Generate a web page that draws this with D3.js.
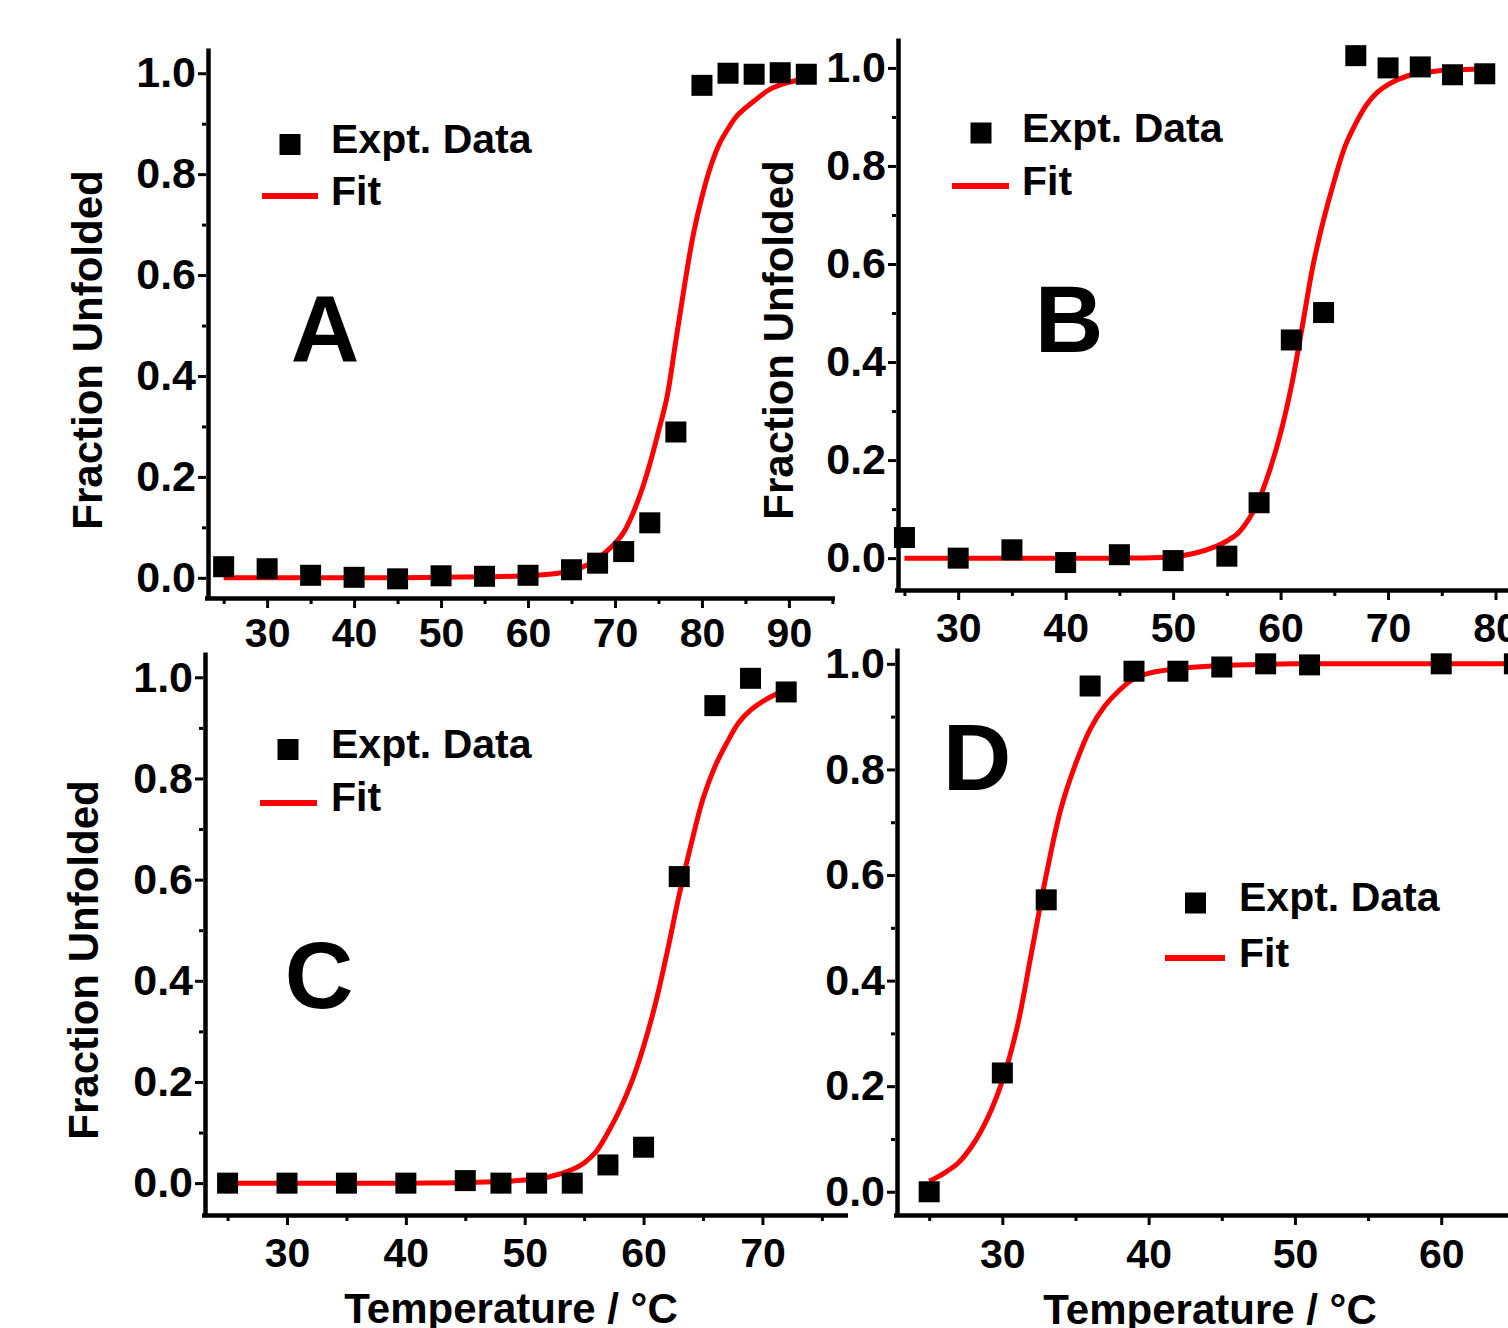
<!DOCTYPE html>
<html>
<head>
<meta charset="utf-8">
<script src="https://cdn.jsdelivr.net/npm/d3@7"></script>
<style>
  html, body { margin: 0; padding: 0; background: #ffffff; }
  svg { display: block; }
  text { font-family: "Liberation Sans", Arial, sans-serif; font-weight: bold; fill: #000; }
</style>
</head>
<body>
<svg id="chart" width="1508" height="1328"></svg>
<script>
// ---------------- DATA ----------------
const yTickValues = [0, 0.2, 0.4, 0.6, 0.8, 1.0];
const yMinorValues = [0.1, 0.3, 0.5, 0.7, 0.9];
const legendLabels = ["Expt. Data", "Fit"];
const yTitleText = "Fraction Unfolded";
const xTitleText = "Temperature / °C";
const panelLetters = ["A", "B", "C", "D"];

// Panel A
const tempA = [25, 30, 35, 40, 45, 50, 55, 60, 65, 68, 71, 74, 77, 80, 83, 86, 89, 92];
const fracA = [0.022, 0.018, 0.005, 0.001, -0.002, 0.004, 0.003, 0.005, 0.016, 0.029, 0.052, 0.109, 0.289, 0.976, 1.0, 0.998, 1.001, 0.998];
const fitTempA = [25, 30, 35, 40, 45, 50, 55, 60, 63, 65, 67, 68, 69, 70, 71, 72, 73, 74, 75, 76, 77, 78, 79, 80, 81, 82, 83, 84, 86, 88, 90, 92];
const fitFracA = [0, 0, 0, 0, 0, 0.001, 0.002, 0.004, 0.008, 0.014, 0.027, 0.038, 0.052, 0.068, 0.09, 0.125, 0.17, 0.225, 0.29, 0.36, 0.47, 0.58, 0.68, 0.755, 0.815, 0.86, 0.89, 0.915, 0.945, 0.97, 0.982, 0.99];
const xTicksA = [30, 40, 50, 60, 70, 80, 90];
const xMinorA = [25, 35, 45, 55, 65, 75, 85, 95];

// Panel B
const tempB = [25, 30, 35, 40, 45, 50, 55, 58, 61, 64, 67, 70, 73, 76, 79];
const fracB = [0.042, 0.0, 0.017, -0.009, 0.007, -0.005, 0.004, 0.113, 0.445, 0.501, 1.025, 1.0, 1.002, 0.986, 0.988];
const fitTempB = [25, 30, 35, 40, 45, 50, 52, 54, 55, 56, 57, 58, 59, 60, 61, 62, 63, 64, 65, 66, 67, 68, 69, 70, 72, 74, 76, 79];
const fitFracB = [0, 0, 0, 0, 0, 0.003, 0.01, 0.024, 0.035, 0.05, 0.078, 0.12, 0.18, 0.255, 0.35, 0.47, 0.595, 0.69, 0.77, 0.84, 0.887, 0.925, 0.95, 0.966, 0.985, 0.992, 0.996, 0.998];
const xTicksB = [30, 40, 50, 60, 70, 80];
const xMinorB = [25, 35, 45, 55, 65, 75];

// Panel C
const tempC = [25, 30, 35, 40, 45, 48, 51, 54, 57, 60, 63, 66, 69, 72];
const fracC = [0, 0, 0, 0, 0.005, 0, 0, 0, 0.036, 0.071, 0.606, 0.944, 0.998, 0.971];
const fitTempC = [25, 30, 35, 40, 45, 48, 50, 52, 54, 55, 56, 57, 58, 59, 60, 61, 62, 63, 64, 65, 66, 67, 68, 69, 70, 71, 72];
const fitFracC = [0, 0, 0, 0, 0.001, 0.003, 0.006, 0.012, 0.027, 0.04, 0.062, 0.1, 0.145, 0.2, 0.27, 0.355, 0.458, 0.57, 0.67, 0.76, 0.823, 0.87, 0.91, 0.935, 0.952, 0.965, 0.975];
const xTicksC = [30, 40, 50, 60, 70];
const xMinorC = [25, 35, 45, 55, 65, 75];

// Panel D
const tempD = [25, 30, 33, 36, 39, 42, 45, 48, 51, 60, 65];
const fracD = [0.0, 0.225, 0.553, 0.958, 0.986, 0.986, 0.994, 1.0, 0.998, 1.0, 1.0];
const fitTempD = [25, 26, 27, 28, 29, 30, 31, 32, 33, 34, 35, 36, 37, 38, 39, 40, 42, 45, 50, 55, 60, 66];
const fitFracD = [0.02, 0.035, 0.055, 0.09, 0.14, 0.21, 0.31, 0.454, 0.6, 0.725, 0.81, 0.876, 0.92, 0.95, 0.972, 0.982, 0.991, 0.997, 1.0, 1.0, 1.0, 1.0];
const xTicksD = [30, 40, 50, 60];
const xMinorD = [25, 35, 45, 55, 65];

// ---------------- LAYOUT ----------------
const layouts = [
  { xd: [23.2, 95.3], xr: [208, 835], yd: [-0.04, 1.05], yr: [598, 48], xLabelGap: 49,
    yTitle: [102, 350], xTitle: null, letter: [325, 362],
    sq: [290, 144.5], line: [262, 318, 196], text: [331, 153, 205] },
  { xd: [24.4, 82.0], xr: [898, 1517], yd: [-0.065, 1.061], yr: [590, 38], xLabelGap: 52,
    yTitle: [793, 340], xTitle: null, letter: [1069, 352],
    sq: [981, 133], line: [952, 1009, 186], text: [1022, 142, 195] },
  { xd: [23.1, 77.2], xr: [205, 848], yd: [-0.063, 1.05], yr: [1215, 652], xLabelGap: 52,
    yTitle: [98, 960], xTitle: [511, 1323], letter: [319, 1008],
    sq: [288, 749.5], line: [260, 317, 803], text: [331, 758, 811] },
  { xd: [22.8, 66.0], xr: [897, 1529], yd: [-0.044, 1.03], yr: [1215, 648], xLabelGap: 53,
    yTitle: null, xTitle: [1210, 1324], letter: [977, 790],
    sq: [1195.5, 903], line: [1165, 1225, 958], text: [1239, 911, 967] }
];

const panels = [
  { temp: tempA, frac: fracA, fitT: fitTempA, fitF: fitFracA, xTicks: xTicksA, xMinor: xMinorA },
  { temp: tempB, frac: fracB, fitT: fitTempB, fitF: fitFracB, xTicks: xTicksB, xMinor: xMinorB },
  { temp: tempC, frac: fracC, fitT: fitTempC, fitF: fitFracC, xTicks: xTicksC, xMinor: xMinorC },
  { temp: tempD, frac: fracD, fitT: fitTempD, fitF: fitFracD, xTicks: xTicksD, xMinor: xMinorD }
];

const svg = d3.select("#chart");
const LEG_FONT = 41;
const YTICK_FONT = 43;
const XTICK_FONT = 41;
const TITLE_FONT = 42;
const SQ = 21;

panels.forEach((p, i) => {
  const L = layouts[i];
  const g = svg.append("g");
  const x = d3.scaleLinear().domain(L.xd).range(L.xr);
  const y = d3.scaleLinear().domain(L.yd).range(L.yr);

  // Minor ticks
  g.append("g").attr("transform", `translate(${L.xr[0]},0)`)
    .call(d3.axisLeft(y).tickValues(yMinorValues).tickFormat("").tickSize(4).tickSizeOuter(0))
    .call(a => a.select(".domain").remove())
    .call(a => a.selectAll("line").attr("stroke", "#000").attr("stroke-width", 3).attr("transform", "translate(-2,0)"));
  g.append("g").attr("transform", `translate(0,${L.yr[0]})`)
    .call(d3.axisBottom(x).tickValues(p.xMinor).tickFormat("").tickSize(4).tickSizeOuter(0))
    .call(a => a.select(".domain").remove())
    .call(a => a.selectAll("line").attr("stroke", "#000").attr("stroke-width", 3).attr("transform", "translate(0,2)"));

  // Y axis
  const yAx = g.append("g").attr("transform", `translate(${L.xr[0]},0)`)
    .call(d3.axisLeft(y).tickValues(yTickValues).tickFormat(d3.format(".1f")).tickSize(8).tickPadding(6).tickSizeOuter(0));
  yAx.select(".domain").attr("stroke", "#000").attr("stroke-width", 4.5);
  yAx.selectAll(".tick line").attr("stroke", "#000").attr("stroke-width", 3).attr("transform", "translate(-2,0)");
  yAx.selectAll(".tick text").attr("font-size", YTICK_FONT).attr("font-family", "Liberation Sans, Arial, sans-serif")
    .attr("font-weight", "bold").attr("x", -12);

  // X axis
  const xAx = g.append("g").attr("transform", `translate(0,${L.yr[0]})`)
    .call(d3.axisBottom(x).tickValues(p.xTicks).tickFormat(d3.format("d")).tickSize(8).tickSizeOuter(0));
  xAx.select(".domain").attr("stroke", "#000").attr("stroke-width", 4.5)
    .attr("d", `M${L.xr[0] - 3},0.5H${L.xr[1]}`);
  xAx.selectAll(".tick line").attr("stroke", "#000").attr("stroke-width", 3).attr("transform", "translate(0,2)");
  xAx.selectAll(".tick text").attr("font-size", XTICK_FONT).attr("font-family", "Liberation Sans, Arial, sans-serif")
    .attr("font-weight", "bold").attr("y", L.xLabelGap).attr("dy", 0);

  // Fit line
  const line = d3.line().x((d, k) => x(p.fitT[k])).y((d, k) => y(p.fitF[k])).curve(d3.curveCatmullRom.alpha(0.5));
  g.append("path").datum(p.fitT).attr("d", line)
    .attr("fill", "none").attr("stroke", "#ff0000").attr("stroke-width", 5).attr("stroke-linejoin", "round");

  // Data squares
  g.selectAll("rect.pt").data(p.temp).join("rect").attr("class", "pt")
    .attr("x", (d) => x(d) - SQ / 2)
    .attr("y", (d, k) => y(p.frac[k]) - SQ / 2)
    .attr("width", SQ).attr("height", SQ).attr("fill", "#000");

  // Legend
  g.append("rect").attr("x", L.sq[0] - SQ / 2).attr("y", L.sq[1] - SQ / 2)
    .attr("width", SQ).attr("height", SQ).attr("fill", "#000");
  g.append("line").attr("x1", L.line[0]).attr("x2", L.line[1]).attr("y1", L.line[2]).attr("y2", L.line[2])
    .attr("stroke", "#ff0000").attr("stroke-width", 6);
  g.append("text").attr("x", L.text[0]).attr("y", L.text[1]).attr("font-size", LEG_FONT).text(legendLabels[0]);
  g.append("text").attr("x", L.text[0]).attr("y", L.text[2]).attr("font-size", LEG_FONT).text(legendLabels[1]);

  // Panel letter
  g.append("text").attr("x", L.letter[0]).attr("y", L.letter[1]).attr("text-anchor", "middle")
    .attr("font-size", 95).text(panelLetters[i]);

  // Titles
  if (L.yTitle) {
    g.append("text").attr("transform", `translate(${L.yTitle[0]},${L.yTitle[1]}) rotate(-90)`)
      .attr("text-anchor", "middle").attr("font-size", TITLE_FONT).text(yTitleText);
  }
  if (L.xTitle) {
    g.append("text").attr("x", L.xTitle[0]).attr("y", L.xTitle[1]).attr("text-anchor", "middle")
      .attr("font-size", TITLE_FONT).text(xTitleText);
  }
});
</script>
</body>
</html>
